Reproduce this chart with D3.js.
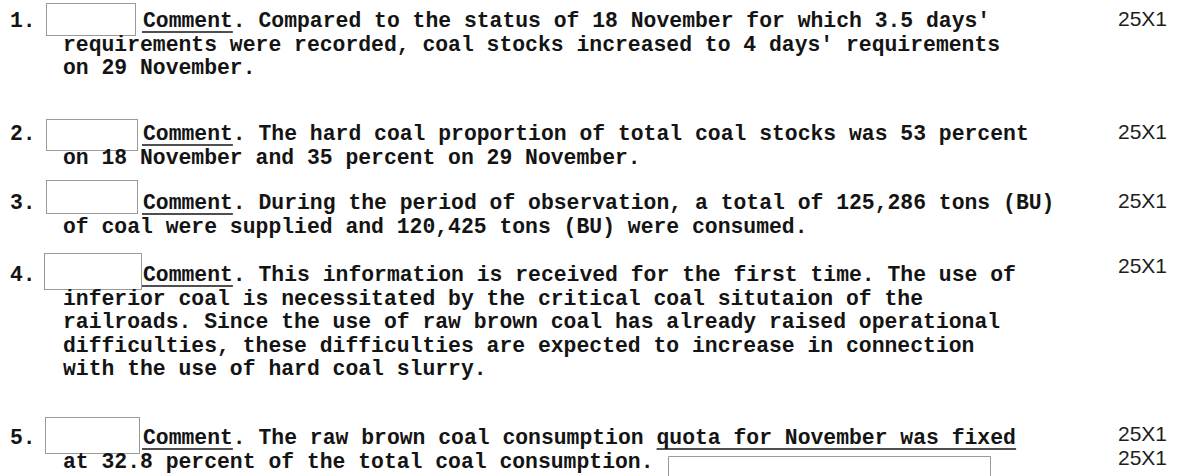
<!DOCTYPE html>
<html>
<head>
<meta charset="utf-8">
<script src="https://cdn.jsdelivr.net/npm/d3@7"></script>
<style>
  html, body { margin: 0; padding: 0; background: #fff; }
  svg { display: block; }
  text { white-space: pre; }
</style>
</head>
<body>
<div id="chart"></div>
<script>
// ---- content ----
const itemNumbers = ["1.", "2.", "3.", "4.", "5."];
const leadLines = [
  "Comment. Compared to the status of 18 November for which 3.5 days'",
  "Comment. The hard coal proportion of total coal stocks was 53 percent",
  "Comment. During the period of observation, a total of 125,286 tons (BU)",
  "Comment. This information is received for the first time. The use of",
  "Comment. The raw brown coal consumption quota for November was fixed"
];
const followLines = [
  ["requirements were recorded, coal stocks increased to 4 days' requirements",
   "on 29 November."],
  ["on 18 November and 35 percent on 29 November."],
  ["of coal were supplied and 120,425 tons (BU) were consumed."],
  ["inferior coal is necessitated by the critical coal situtaion of the",
   "railroads. Since the use of raw brown coal has already raised operational",
   "difficulties, these difficulties are expected to increase in connection",
   "with the use of hard coal slurry."],
  ["at 32.8 percent of the total coal consumption."]
];
const stampLabel = "25X1";
const stampCounts = [1, 1, 1, 1, 2];
const underlinedPhrase = "quota for November was fixed";

// ---- layout ----
const W = 1180, H = 476;
const fontSize = 21.4, charW = fontSize * 0.6, lineGap = 23.6;
const itemTop = [27, 140, 209, 281, 444];     // baseline of first line per item
const stampTop = [26, 139, 208, 273, 441];
const numX = 10, leadX = 143, indentX = 63, stampX = 1118;
const boxes = [[46, 3, 89, 32], [46, 119, 91, 31], [46, 180, 91, 33], [44, 253, 97, 36], [45, 417, 94, 36]];

const svg = d3.select("#chart").append("svg")
  .attr("width", W).attr("height", H)
  .style("background", "#fff");

const mono = "'Liberation Mono', 'Courier New', monospace";
const ink = "#141414";

const items = svg.selectAll("g.item")
  .data(itemNumbers.map((n, i) => ({ n, i })))
  .join("g").attr("class", "item");

// redaction boxes
items.append("rect")
  .attr("x", d => boxes[d.i][0] + 0.5)
  .attr("y", d => boxes[d.i][1] + 0.5)
  .attr("width", d => boxes[d.i][2])
  .attr("height", d => boxes[d.i][3])
  .attr("fill", "#fff")
  .attr("stroke", "#9a9a9a")
  .attr("stroke-width", 1);

// item number
items.append("text")
  .attr("x", numX).attr("y", d => itemTop[d.i])
  .attr("font-family", mono).attr("font-size", fontSize)
  .attr("font-weight", "bold").attr("fill", ink)
  .text(d => d.n);

// lead line
items.append("text")
  .attr("x", leadX).attr("y", d => itemTop[d.i])
  .attr("font-family", mono).attr("font-size", fontSize)
  .attr("font-weight", "bold").attr("fill", ink)
  .text(d => leadLines[d.i]);

// underline under "Comment"
items.append("line")
  .attr("x1", leadX - 1).attr("x2", leadX + 7 * charW)
  .attr("y1", d => itemTop[d.i] + 5).attr("y2", d => itemTop[d.i] + 5)
  .attr("stroke", ink).attr("stroke-width", 1.6);

// continuation lines
items.selectAll("text.follow")
  .data(d => followLines[d.i].map((t, k) => ({ t, k, i: d.i })))
  .join("text").attr("class", "follow")
  .attr("x", indentX)
  .attr("y", d => itemTop[d.i] + (d.k + 1) * lineGap)
  .attr("font-family", mono).attr("font-size", fontSize)
  .attr("font-weight", "bold").attr("fill", ink)
  .text(d => d.t);

// stamps
items.selectAll("text.stamp")
  .data(d => d3.range(stampCounts[d.i]).map(k => ({ k, i: d.i })))
  .join("text").attr("class", "stamp")
  .attr("x", stampX)
  .attr("y", d => stampTop[d.i] + d.k * lineGap)
  .attr("font-family", "'Liberation Sans', Arial, sans-serif")
  .attr("font-size", 21).attr("fill", "#1e1e1e")
  .text(stampLabel);

// item 5: underlined phrase and lower redaction box
const lead5 = leadLines[4];
const col = lead5.indexOf(underlinedPhrase);
const ux1 = leadX + col * charW, ux2 = ux1 + underlinedPhrase.length * charW;
svg.append("line")
  .attr("x1", ux1).attr("x2", ux2)
  .attr("y1", itemTop[4] + 5).attr("y2", itemTop[4] + 5)
  .attr("stroke", ink).attr("stroke-width", 1.4);
svg.append("path")
  .attr("d", `M668.5,${H + 2}V456.5H990.5V${H + 2}`)
  .attr("fill", "none").attr("stroke", "#9a9a9a").attr("stroke-width", 1);
</script>
</body>
</html>
